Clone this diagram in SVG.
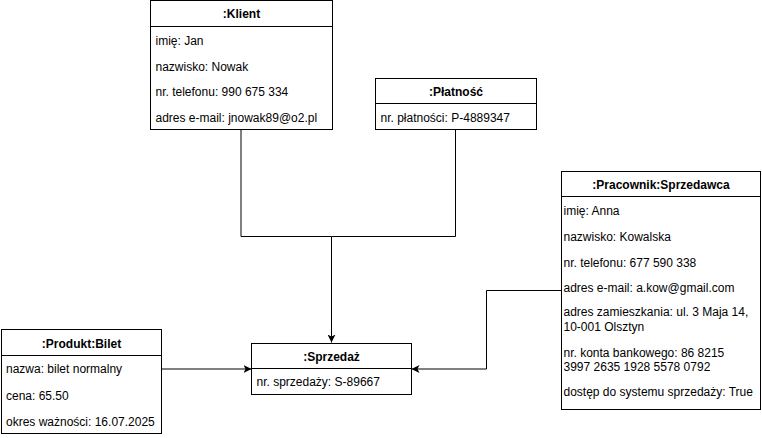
<svg xmlns="http://www.w3.org/2000/svg" width="762" height="438" viewBox="0 0 762 438">
<defs>
<style>
.box{fill:#fff;stroke:#000;stroke-width:1}
.sep{stroke:#000;stroke-width:1}
.h{font-family:"Liberation Sans",Arial,sans-serif;font-size:12px;font-weight:bold;text-anchor:middle;fill:#000}
.t{font-family:"Liberation Sans",Arial,sans-serif;font-size:12px;fill:#000}
.edge{fill:none;stroke:#000;stroke-width:1}
</style>
<marker id="arr" viewBox="0 0 10 10" refX="10" refY="5" markerWidth="8" markerHeight="8" markerUnits="userSpaceOnUse" orient="auto">
<path d="M0,0 L10,5 L0,10 L2.5,5 Z" fill="#000"/>
</marker>
</defs>
<rect width="762" height="438" fill="#fff"/>
<g id="connectors">
<path class="edge" d="M241,129.5 V236.5 H331.5 V342.5" marker-end="url(#arr)"/>
<path class="edge" d="M455.5,129.5 V236.5 H331.5"/>
<path class="edge" d="M161.5,369 H251.5" marker-end="url(#arr)"/>
<path class="edge" d="M561.5,290.5 H486.5 V369 H411.5" marker-end="url(#arr)"/>
</g>
<g id="klient">
<rect class="box" x="150.5" y="0.5" width="182" height="129"/>
<line class="sep" x1="150.5" y1="26.5" x2="332.5" y2="26.5"/>
<text class="h" x="241.5" y="17.5">:Klient</text>
<text class="t" x="155.5" y="45">imię: Jan</text>
<text class="t" x="155.5" y="70.5">nazwisko: Nowak</text>
<text class="t" x="155.5" y="95.5">nr. telefonu: 990 675 334</text>
<text class="t" x="155.5" y="122">adres e-mail: jnowak89@o2.pl</text>
</g>
<g id="platnosc">
<rect class="box" x="375.5" y="78.5" width="161" height="51"/>
<line class="sep" x1="375.5" y1="103.5" x2="536.5" y2="103.5"/>
<text class="h" x="456" y="95.5">:Płatność</text>
<text class="t" x="380.5" y="121.5">nr. płatności: P-4889347</text>
</g>
<g id="pracownik">
<rect class="box" x="561.5" y="171.5" width="199" height="238"/>
<line class="sep" x1="561.5" y1="196.5" x2="760.5" y2="196.5"/>
<text class="h" x="661" y="189">:Pracownik:Sprzedawca</text>
<text class="t" x="563.5" y="215">imię: Anna</text>
<text class="t" x="563.5" y="240.5">nazwisko: Kowalska</text>
<text class="t" x="563.5" y="266.5">nr. telefonu: 677 590 338</text>
<text class="t" x="563.5" y="292">adres e-mail: a.kow@gmail.com</text>
<text class="t" x="563.5" y="316">adres zamieszkania: ul. 3 Maja 14,</text>
<text class="t" x="563.5" y="330.5">10-001 Olsztyn</text>
<text class="t" x="563.5" y="356.5">nr. konta bankowego: 86 8215</text>
<text class="t" x="563.5" y="371">3997 2635 1928 5578 0792</text>
<text class="t" x="563.5" y="396">dostęp do systemu sprzedaży: True</text>
</g>
<g id="produkt">
<rect class="box" x="1.5" y="329.5" width="160" height="104"/>
<line class="sep" x1="1.5" y1="355.5" x2="161.5" y2="355.5"/>
<text class="h" x="81.5" y="348">:Produkt:Bilet</text>
<text class="t" x="6" y="372.5">nazwa: bilet normalny</text>
<text class="t" x="6" y="399.5">cena: 65.50</text>
<text class="t" x="6" y="425.5">okres ważności: 16.07.2025</text>
</g>
<g id="sprzedaz">
<rect class="box" x="251.5" y="343.5" width="160" height="51"/>
<line class="sep" x1="251.5" y1="368.5" x2="411.5" y2="368.5"/>
<text class="h" x="331.5" y="360.5">:Sprzedaż</text>
<text class="t" x="256.5" y="386">nr. sprzedaży: S-89667</text>
</g>
</svg>
